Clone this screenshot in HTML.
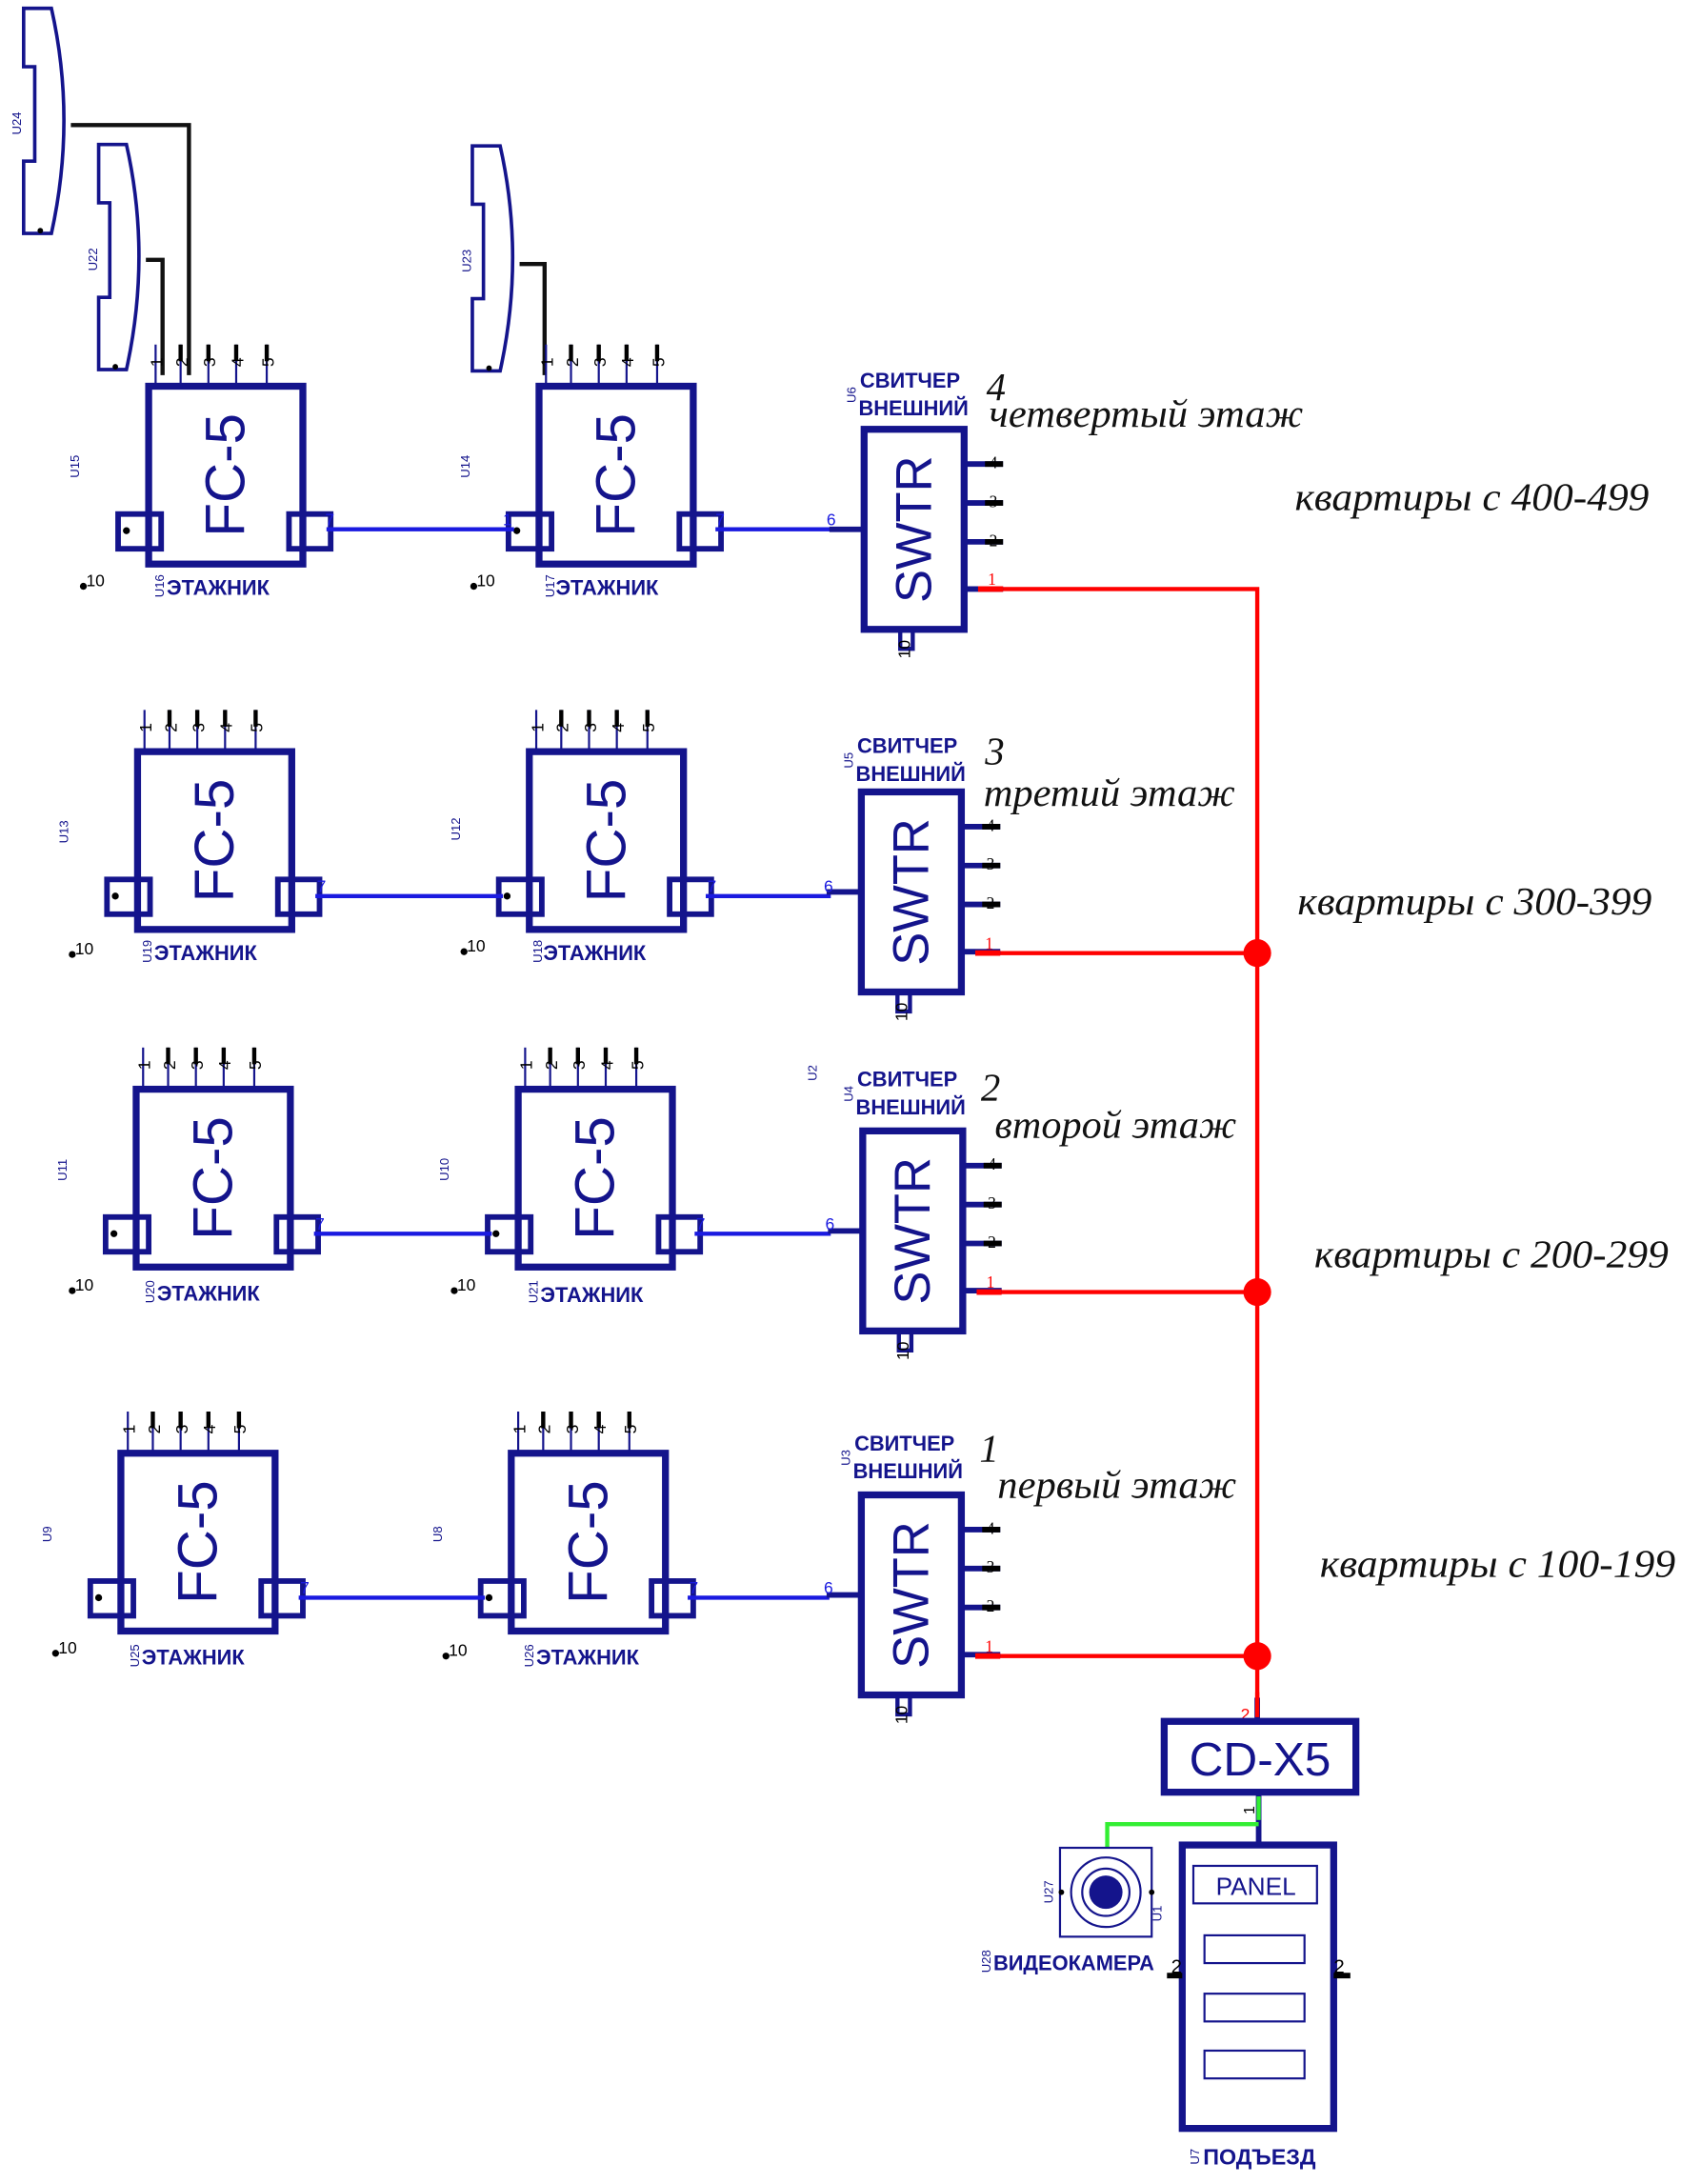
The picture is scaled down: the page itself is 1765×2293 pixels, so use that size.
<!DOCTYPE html>
<html><head><meta charset="utf-8"><style>
html,body{margin:0;padding:0;background:#fff;}
svg{display:block;}
.n{fill:none;stroke:#14148c;}
.t{font-family:"Liberation Sans",sans-serif;fill:#14148c;}
.b{font-family:"Liberation Sans",sans-serif;font-weight:bold;fill:#14148c;}
.s{font-family:"Liberation Serif",serif;font-style:italic;fill:#111;}
.pn{font-family:"Liberation Sans",sans-serif;font-size:12px;fill:#000;}
</style></head><body>
<svg width="1765" height="2293" viewBox="0 0 1210 1572" xmlns="http://www.w3.org/2000/svg">
<rect width="1210" height="1572" fill="#fff"/>
<defs>
<g id="fc">
  <line x1="5" y1="-30" x2="5" y2="0" stroke="#14148c" stroke-width="1.5"/>
  <line x1="23" y1="-30" x2="23" y2="0" stroke="#14148c" stroke-width="1.5"/>
  <line x1="43" y1="-30" x2="43" y2="0" stroke="#14148c" stroke-width="1.5"/>
  <line x1="63" y1="-30" x2="63" y2="0" stroke="#14148c" stroke-width="1.5"/>
  <line x1="85" y1="-30" x2="85" y2="0" stroke="#14148c" stroke-width="1.5"/>
  <line x1="23" y1="-30" x2="23" y2="-18" stroke="#000" stroke-width="3"/>
  <line x1="43" y1="-30" x2="43" y2="-18" stroke="#000" stroke-width="3"/>
  <line x1="63" y1="-30" x2="63" y2="-18" stroke="#000" stroke-width="3"/>
  <line x1="85" y1="-30" x2="85" y2="-18" stroke="#000" stroke-width="3"/>
  <rect x="0" y="0" width="111" height="128" class="n" stroke-width="5" fill="#fff"/>
  <rect x="-22" y="92" width="31" height="25" class="n" stroke-width="4"/>
  <rect x="101" y="92" width="30" height="25" class="n" stroke-width="4"/>
  <circle cx="-16" cy="104" r="2.5" fill="#000"/>
</g>
<g id="sw">
  <line x1="-25" y1="72" x2="0" y2="72" stroke="#14148c" stroke-width="4"/>
  <line x1="72" y1="25" x2="100" y2="25" stroke="#14148c" stroke-width="4"/>
  <line x1="72" y1="53" x2="100" y2="53" stroke="#14148c" stroke-width="4"/>
  <line x1="72" y1="81" x2="100" y2="81" stroke="#14148c" stroke-width="4"/>
  <line x1="72" y1="115" x2="100" y2="115" stroke="#14148c" stroke-width="4"/>
  <line x1="87" y1="25" x2="100" y2="25" stroke="#000" stroke-width="4"/>
  <line x1="87" y1="53" x2="100" y2="53" stroke="#000" stroke-width="4"/>
  <line x1="87" y1="81" x2="100" y2="81" stroke="#000" stroke-width="4"/>
  <rect x="0" y="0" width="72" height="144" class="n" stroke-width="5" fill="#fff"/>
  <rect x="26" y="144" width="9" height="14" class="n" stroke-width="3"/>
</g>
<g id="hs">
  <path d="M0,0 H20 Q38,80 20,162 H0 V110 H8 V42 H0 Z" class="n" stroke-width="2.5" fill="#fff"/>
  <circle cx="12" cy="160" r="2" fill="#000"/>
</g>
</defs>

<use href="#hs" x="17" y="6"/>
<use href="#hs" x="71" y="104"/>
<use href="#hs" x="340" y="105"/>
<polyline points="51,90 136,90 136,270" fill="none" stroke="#111" stroke-width="3"/>
<polyline points="105,187 117,187 117,270" fill="none" stroke="#111" stroke-width="3"/>
<polyline points="374,190 392,190 392,270" fill="none" stroke="#111" stroke-width="3"/>
<text class="t" font-size="9" transform="translate(15,97) rotate(-90)">U24</text>
<text class="t" font-size="9" transform="translate(70,195) rotate(-90)">U22</text>
<text class="t" font-size="9" transform="translate(339,196) rotate(-90)">U23</text>

<polyline points="704,424 905,424 905,1240" fill="none" stroke="#f00" stroke-width="3"/>
<line x1="704" y1="686" x2="905" y2="686" stroke="#f00" stroke-width="3"/>
<line x1="704" y1="930" x2="905" y2="930" stroke="#f00" stroke-width="3"/>
<line x1="704" y1="1192" x2="905" y2="1192" stroke="#f00" stroke-width="3"/>
<circle cx="905" cy="686" r="10" fill="#f00"/>
<circle cx="905" cy="930" r="10" fill="#f00"/>
<circle cx="905" cy="1192" r="10" fill="#f00"/>

<use href="#fc" x="107" y="278"/>
<use href="#fc" x="388" y="278"/>
<line x1="235" y1="381" x2="370" y2="381" stroke="#1a1ae0" stroke-width="3"/>
<line x1="515" y1="381" x2="600" y2="381" stroke="#1a1ae0" stroke-width="3"/>
<use href="#sw" x="622" y="309"/>
<line x1="704" y1="424" x2="722" y2="424" stroke="#f00" stroke-width="4"/>

<use href="#fc" x="99" y="541"/>
<use href="#fc" x="381" y="541"/>
<line x1="227" y1="645" x2="362" y2="645" stroke="#1a1ae0" stroke-width="3"/>
<line x1="508" y1="645" x2="598" y2="645" stroke="#1a1ae0" stroke-width="3"/>
<use href="#sw" x="620" y="570"/>
<line x1="702" y1="686" x2="720" y2="686" stroke="#f00" stroke-width="4"/>

<use href="#fc" x="98" y="784"/>
<use href="#fc" x="373" y="784"/>
<line x1="226" y1="888" x2="354" y2="888" stroke="#1a1ae0" stroke-width="3"/>
<line x1="500" y1="888" x2="598" y2="888" stroke="#1a1ae0" stroke-width="3"/>
<use href="#sw" x="621" y="814"/>
<line x1="703" y1="930" x2="721" y2="930" stroke="#f00" stroke-width="4"/>

<use href="#fc" x="87" y="1046"/>
<use href="#fc" x="368" y="1046"/>
<line x1="215" y1="1150" x2="349" y2="1150" stroke="#1a1ae0" stroke-width="3"/>
<line x1="495" y1="1150" x2="597" y2="1150" stroke="#1a1ae0" stroke-width="3"/>
<use href="#sw" x="620" y="1076"/>
<line x1="702" y1="1192" x2="720" y2="1192" stroke="#f00" stroke-width="4"/>

<g class="t" font-size="40" text-anchor="middle">
<text transform="translate(176,342) rotate(-90)">FC-5</text>
<text transform="translate(457,342) rotate(-90)">FC-5</text>
<text transform="translate(168,605) rotate(-90)">FC-5</text>
<text transform="translate(450,605) rotate(-90)">FC-5</text>
<text transform="translate(167,848) rotate(-90)">FC-5</text>
<text transform="translate(442,848) rotate(-90)">FC-5</text>
<text transform="translate(156,1110) rotate(-90)">FC-5</text>
<text transform="translate(437,1110) rotate(-90)">FC-5</text>
</g>
<g class="t" font-size="36" text-anchor="middle">
<text transform="translate(670,381) rotate(-90)">SWTR</text>
<text transform="translate(668,642) rotate(-90)">SWTR</text>
<text transform="translate(669,886) rotate(-90)">SWTR</text>
<text transform="translate(668,1148) rotate(-90)">SWTR</text>
</g>

<g class="pn">
<text transform="translate(117,264) rotate(-90)">1</text><text transform="translate(135,264) rotate(-90)">2</text><text transform="translate(155,264) rotate(-90)">3</text><text transform="translate(175,264) rotate(-90)">4</text><text transform="translate(197,264) rotate(-90)">5</text>
<text transform="translate(398,264) rotate(-90)">1</text><text transform="translate(416,264) rotate(-90)">2</text><text transform="translate(436,264) rotate(-90)">3</text><text transform="translate(456,264) rotate(-90)">4</text><text transform="translate(478,264) rotate(-90)">5</text>
<text transform="translate(109,527) rotate(-90)">1</text><text transform="translate(127,527) rotate(-90)">2</text><text transform="translate(147,527) rotate(-90)">3</text><text transform="translate(167,527) rotate(-90)">4</text><text transform="translate(189,527) rotate(-90)">5</text>
<text transform="translate(391,527) rotate(-90)">1</text><text transform="translate(409,527) rotate(-90)">2</text><text transform="translate(429,527) rotate(-90)">3</text><text transform="translate(449,527) rotate(-90)">4</text><text transform="translate(471,527) rotate(-90)">5</text>
<text transform="translate(108,770) rotate(-90)">1</text><text transform="translate(126,770) rotate(-90)">2</text><text transform="translate(146,770) rotate(-90)">3</text><text transform="translate(166,770) rotate(-90)">4</text><text transform="translate(188,770) rotate(-90)">5</text>
<text transform="translate(383,770) rotate(-90)">1</text><text transform="translate(401,770) rotate(-90)">2</text><text transform="translate(421,770) rotate(-90)">3</text><text transform="translate(441,770) rotate(-90)">4</text><text transform="translate(463,770) rotate(-90)">5</text>
<text transform="translate(97,1032) rotate(-90)">1</text><text transform="translate(115,1032) rotate(-90)">2</text><text transform="translate(135,1032) rotate(-90)">3</text><text transform="translate(155,1032) rotate(-90)">4</text><text transform="translate(177,1032) rotate(-90)">5</text>
<text transform="translate(378,1032) rotate(-90)">1</text><text transform="translate(396,1032) rotate(-90)">2</text><text transform="translate(416,1032) rotate(-90)">3</text><text transform="translate(436,1032) rotate(-90)">4</text><text transform="translate(458,1032) rotate(-90)">5</text>
</g>

<g font-family="Liberation Serif,serif" font-size="12" fill="#000">
<text x="712" y="337">4</text><text x="712" y="365">3</text><text x="712" y="393">2</text>
<text x="710" y="598">4</text><text x="710" y="626">3</text><text x="710" y="654">2</text>
<text x="711" y="842">4</text><text x="711" y="870">3</text><text x="711" y="898">2</text>
<text x="710" y="1104">4</text><text x="710" y="1132">3</text><text x="710" y="1160">2</text>
</g>
<g font-family="Liberation Serif,serif" font-size="12" fill="#f00">
<text x="711" y="421">1</text><text x="709" y="683">1</text><text x="710" y="927">1</text><text x="709" y="1189">1</text>
</g>
<g font-family="Liberation Sans,sans-serif" font-size="12" fill="#1a1ae0">
<text x="595" y="378">6</text><text x="593" y="642">6</text><text x="594" y="885">6</text><text x="593" y="1147">6</text>
<text x="234" y="378">7</text><text x="515" y="378">7</text><text x="362" y="378">1</text>
<text x="228" y="642">7</text><text x="509" y="642">7</text>
<text x="227" y="885">7</text><text x="501" y="885">7</text>
<text x="216" y="1147">7</text><text x="496" y="1147">7</text>
</g>
<g class="pn" font-size="10">
<text transform="translate(655,474) rotate(-90)">10</text>
<text transform="translate(653,735) rotate(-90)">10</text>
<text transform="translate(654,979) rotate(-90)">10</text>
<text transform="translate(653,1241) rotate(-90)">10</text>
</g>

<g font-family="Liberation Sans,sans-serif" font-size="12" fill="#000">
<circle cx="60" cy="422" r="2.5" fill="#000"/><text x="62" y="422">10</text>
<circle cx="341" cy="422" r="2.5" fill="#000"/><text x="343" y="422">10</text>
<circle cx="52" cy="687" r="2.5" fill="#000"/><text x="54" y="687">10</text>
<circle cx="334" cy="685" r="2.5" fill="#000"/><text x="336" y="685">10</text>
<circle cx="52" cy="929" r="2.5" fill="#000"/><text x="54" y="929">10</text>
<circle cx="327" cy="929" r="2.5" fill="#000"/><text x="329" y="929">10</text>
<circle cx="40" cy="1190" r="2.5" fill="#000"/><text x="42" y="1190">10</text>
<circle cx="321" cy="1192" r="2.5" fill="#000"/><text x="323" y="1192">10</text>
</g>

<g class="t" font-size="9">
<text transform="translate(57,344) rotate(-90)">U15</text>
<text transform="translate(338,344) rotate(-90)">U14</text>
<text transform="translate(49,607) rotate(-90)">U13</text>
<text transform="translate(331,605) rotate(-90)">U12</text>
<text transform="translate(48,850) rotate(-90)">U11</text>
<text transform="translate(323,850) rotate(-90)">U10</text>
<text transform="translate(37,1110) rotate(-90)">U9</text>
<text transform="translate(318,1110) rotate(-90)">U8</text>
<text transform="translate(616,290) rotate(-90)">U6</text>
<text transform="translate(614,553) rotate(-90)">U5</text>
<text transform="translate(588,778) rotate(-90)">U2</text>
<text transform="translate(614,793) rotate(-90)">U4</text>
<text transform="translate(612,1055) rotate(-90)">U3</text>
<text transform="translate(118,430) rotate(-90)">U16</text>
<text transform="translate(399,430) rotate(-90)">U17</text>
<text transform="translate(109,693) rotate(-90)">U19</text>
<text transform="translate(390,693) rotate(-90)">U18</text>
<text transform="translate(111,938) rotate(-90)">U20</text>
<text transform="translate(387,938) rotate(-90)">U21</text>
<text transform="translate(100,1200) rotate(-90)">U25</text>
<text transform="translate(384,1200) rotate(-90)">U26</text>
<text transform="translate(758,1370) rotate(-90)">U27</text>
<text transform="translate(836,1383) rotate(-90)">U1</text>
<text transform="translate(713,1420) rotate(-90)">U28</text>
<text transform="translate(863,1558) rotate(-90)">U7</text>
</g>

<g class="b" font-size="15">
<text x="120" y="428">ЭТАЖНИК</text><text x="400" y="428">ЭТАЖНИК</text>
<text x="111" y="691">ЭТАЖНИК</text><text x="391" y="691">ЭТАЖНИК</text>
<text x="113" y="936">ЭТАЖНИК</text><text x="389" y="937">ЭТАЖНИК</text>
<text x="102" y="1198">ЭТАЖНИК</text><text x="386" y="1198">ЭТАЖНИК</text>
</g>
<g class="b" font-size="15">
<text x="619" y="279">СВИТЧЕР</text><text x="618" y="299">ВНЕШНИЙ</text>
<text x="617" y="542">СВИТЧЕР</text><text x="616" y="562">ВНЕШНИЙ</text>
<text x="617" y="782">СВИТЧЕР</text><text x="616" y="802">ВНЕШНИЙ</text>
<text x="615" y="1044">СВИТЧЕР</text><text x="614" y="1064">ВНЕШНИЙ</text>
</g>

<g class="s" font-size="28">
<text x="710" y="288">4</text>
<text x="712" y="307" textLength="226" lengthAdjust="spacingAndGlyphs">четвертый этаж</text>
<text x="932" y="367" textLength="255" lengthAdjust="spacingAndGlyphs">квартиры с 400-499</text>
<text x="709" y="550">3</text>
<text x="708" y="580" textLength="181" lengthAdjust="spacingAndGlyphs">третий этаж</text>
<text x="934" y="658" textLength="255" lengthAdjust="spacingAndGlyphs">квартиры с 300-399</text>
<text x="706" y="792">2</text>
<text x="716" y="819" textLength="174" lengthAdjust="spacingAndGlyphs">второй этаж</text>
<text x="946" y="912" textLength="255" lengthAdjust="spacingAndGlyphs">квартиры с 200-299</text>
<text x="705" y="1052">1</text>
<text x="718" y="1078" textLength="172" lengthAdjust="spacingAndGlyphs">первый этаж</text>
<text x="950" y="1135" textLength="256" lengthAdjust="spacingAndGlyphs">квартиры с 100-199</text>
</g>

<line x1="905" y1="1222" x2="905" y2="1240" stroke="#14148c" stroke-width="4"/>
<line x1="905" y1="1218" x2="905" y2="1236" stroke="#f00" stroke-width="3"/>
<text x="893" y="1238" font-family="Liberation Sans,sans-serif" font-size="12" fill="#f00">2</text>
<rect x="838" y="1239" width="138" height="51" class="n" stroke-width="5" fill="#fff"/>
<text x="907" y="1278" class="t" font-size="34" text-anchor="middle">CD-X5</text>
<line x1="906" y1="1290" x2="906" y2="1328" stroke="#14148c" stroke-width="4"/>
<line x1="906" y1="1293" x2="906" y2="1310" stroke="#33ee33" stroke-width="3"/>
<polyline points="906,1313 797,1313 797,1330" fill="none" stroke="#33ee33" stroke-width="3"/>
<text transform="translate(903,1306) rotate(-90)" font-family="Liberation Sans,sans-serif" font-size="11" fill="#000">1</text>

<rect x="763" y="1330" width="66" height="64" class="n" stroke-width="1.5" fill="#fff"/>
<circle cx="796" cy="1362" r="25" class="n" stroke-width="1.5"/>
<circle cx="796" cy="1362" r="17" class="n" stroke-width="1.5"/>
<circle cx="796" cy="1362" r="12" fill="#14148c"/>
<circle cx="764" cy="1362" r="2" fill="#000"/>
<circle cx="829" cy="1362" r="2" fill="#000"/>
<text x="715" y="1418" class="b" font-size="15">ВИДЕОКАМЕРА</text>

<rect x="851" y="1328" width="109" height="204" class="n" stroke-width="5" fill="#fff"/>
<rect x="859" y="1343" width="89" height="27" class="n" stroke-width="1.5"/>
<text x="904" y="1364" class="t" font-size="18" text-anchor="middle">PANEL</text>
<rect x="867" y="1393" width="72" height="20" class="n" stroke-width="1.5"/>
<rect x="867" y="1435" width="72" height="20" class="n" stroke-width="1.5"/>
<rect x="867" y="1476" width="72" height="20" class="n" stroke-width="1.5"/>
<line x1="840" y1="1422" x2="851" y2="1422" stroke="#000" stroke-width="4"/>
<line x1="960" y1="1422" x2="972" y2="1422" stroke="#000" stroke-width="4"/>
<text x="843" y="1420" font-family="Liberation Sans,sans-serif" font-size="14" fill="#000">2</text>
<text x="960" y="1420" font-family="Liberation Sans,sans-serif" font-size="14" fill="#000">2</text>
<text x="866" y="1558" class="b" font-size="16">ПОДЪЕЗД</text>
</svg>
</body></html>
